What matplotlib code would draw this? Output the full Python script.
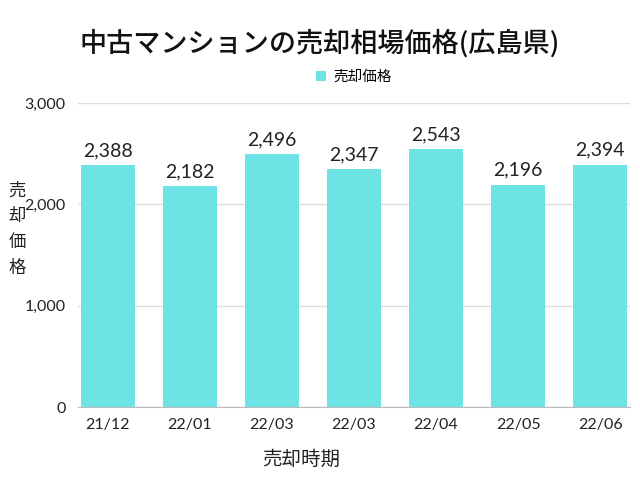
import matplotlib.pyplot as plt

plt.rcParams['font.family'] = ['Lato', 'Noto Sans CJK JP', 'DejaVu Sans']

# data
periods = ['21/12', '22/01', '22/03', '22/03', '22/04', '22/05', '22/06']
prices = [2388, 2182, 2496, 2347, 2543, 2196, 2394]
yticks = [0, 1000, 2000, 3000]

bar_color = '#6de3e6'

fig = plt.figure(figsize=(6.4, 4.8), dpi=100)
ax = fig.add_axes([0.122, 0.152, 0.862, 0.633])

x = range(len(periods))
bars = ax.bar(x, prices, width=0.66, color=bar_color, zorder=3, label='売却価格')

for xi, v in zip(x, prices):
    ax.text(xi, v + 60, f'{v:,}', ha='center', va='bottom', fontsize=14, color='#222222')

ax.set_xlim(-0.36, len(periods) - 0.64)
ax.set_ylim(0, 3000)
ax.set_yticks(yticks)
ax.set_yticklabels([f'{t:,}' for t in yticks])
ax.set_xticks(list(x))
ax.set_xticklabels(periods)
ax.tick_params(axis='both', length=0, labelsize=11.5, colors='#222222')
ax.tick_params(axis='x', pad=8)
ax.tick_params(axis='y', pad=9)

ax.grid(axis='y', color='#dddddd', linewidth=1, zorder=0)
for s in ['top', 'right', 'left']:
    ax.spines[s].set_visible(False)
ax.spines['bottom'].set_color('#bbbbbb')
ax.spines['bottom'].set_zorder(4)

fig.text(0.5, 0.91, '中古マンションの売却相場価格(広島県)', ha='center', va='center',
         fontsize=19.5, family=['Noto Sans CJK JP', 'DejaVu Sans'], fontweight='medium', color='#111111')

leg = ax.legend(loc='lower center', bbox_to_anchor=(0.5, 1.02), frameon=False,
                handlelength=0.7, handleheight=0.7, handletextpad=0.5,
                prop={'family': ['Noto Sans CJK JP'], 'size': 10.5})

fig.text(0.027, 0.523, '売\n却\n価\n格', ha='center', va='center', fontsize=12.5,
         family=['Noto Sans CJK JP'], linespacing=1.55, color='#222222')
fig.text(0.47, 0.043, '売却時期', ha='center', va='center', fontsize=14,
         family=['Noto Sans CJK JP'], color='#222222')

fig.savefig('out.png', dpi=100)
